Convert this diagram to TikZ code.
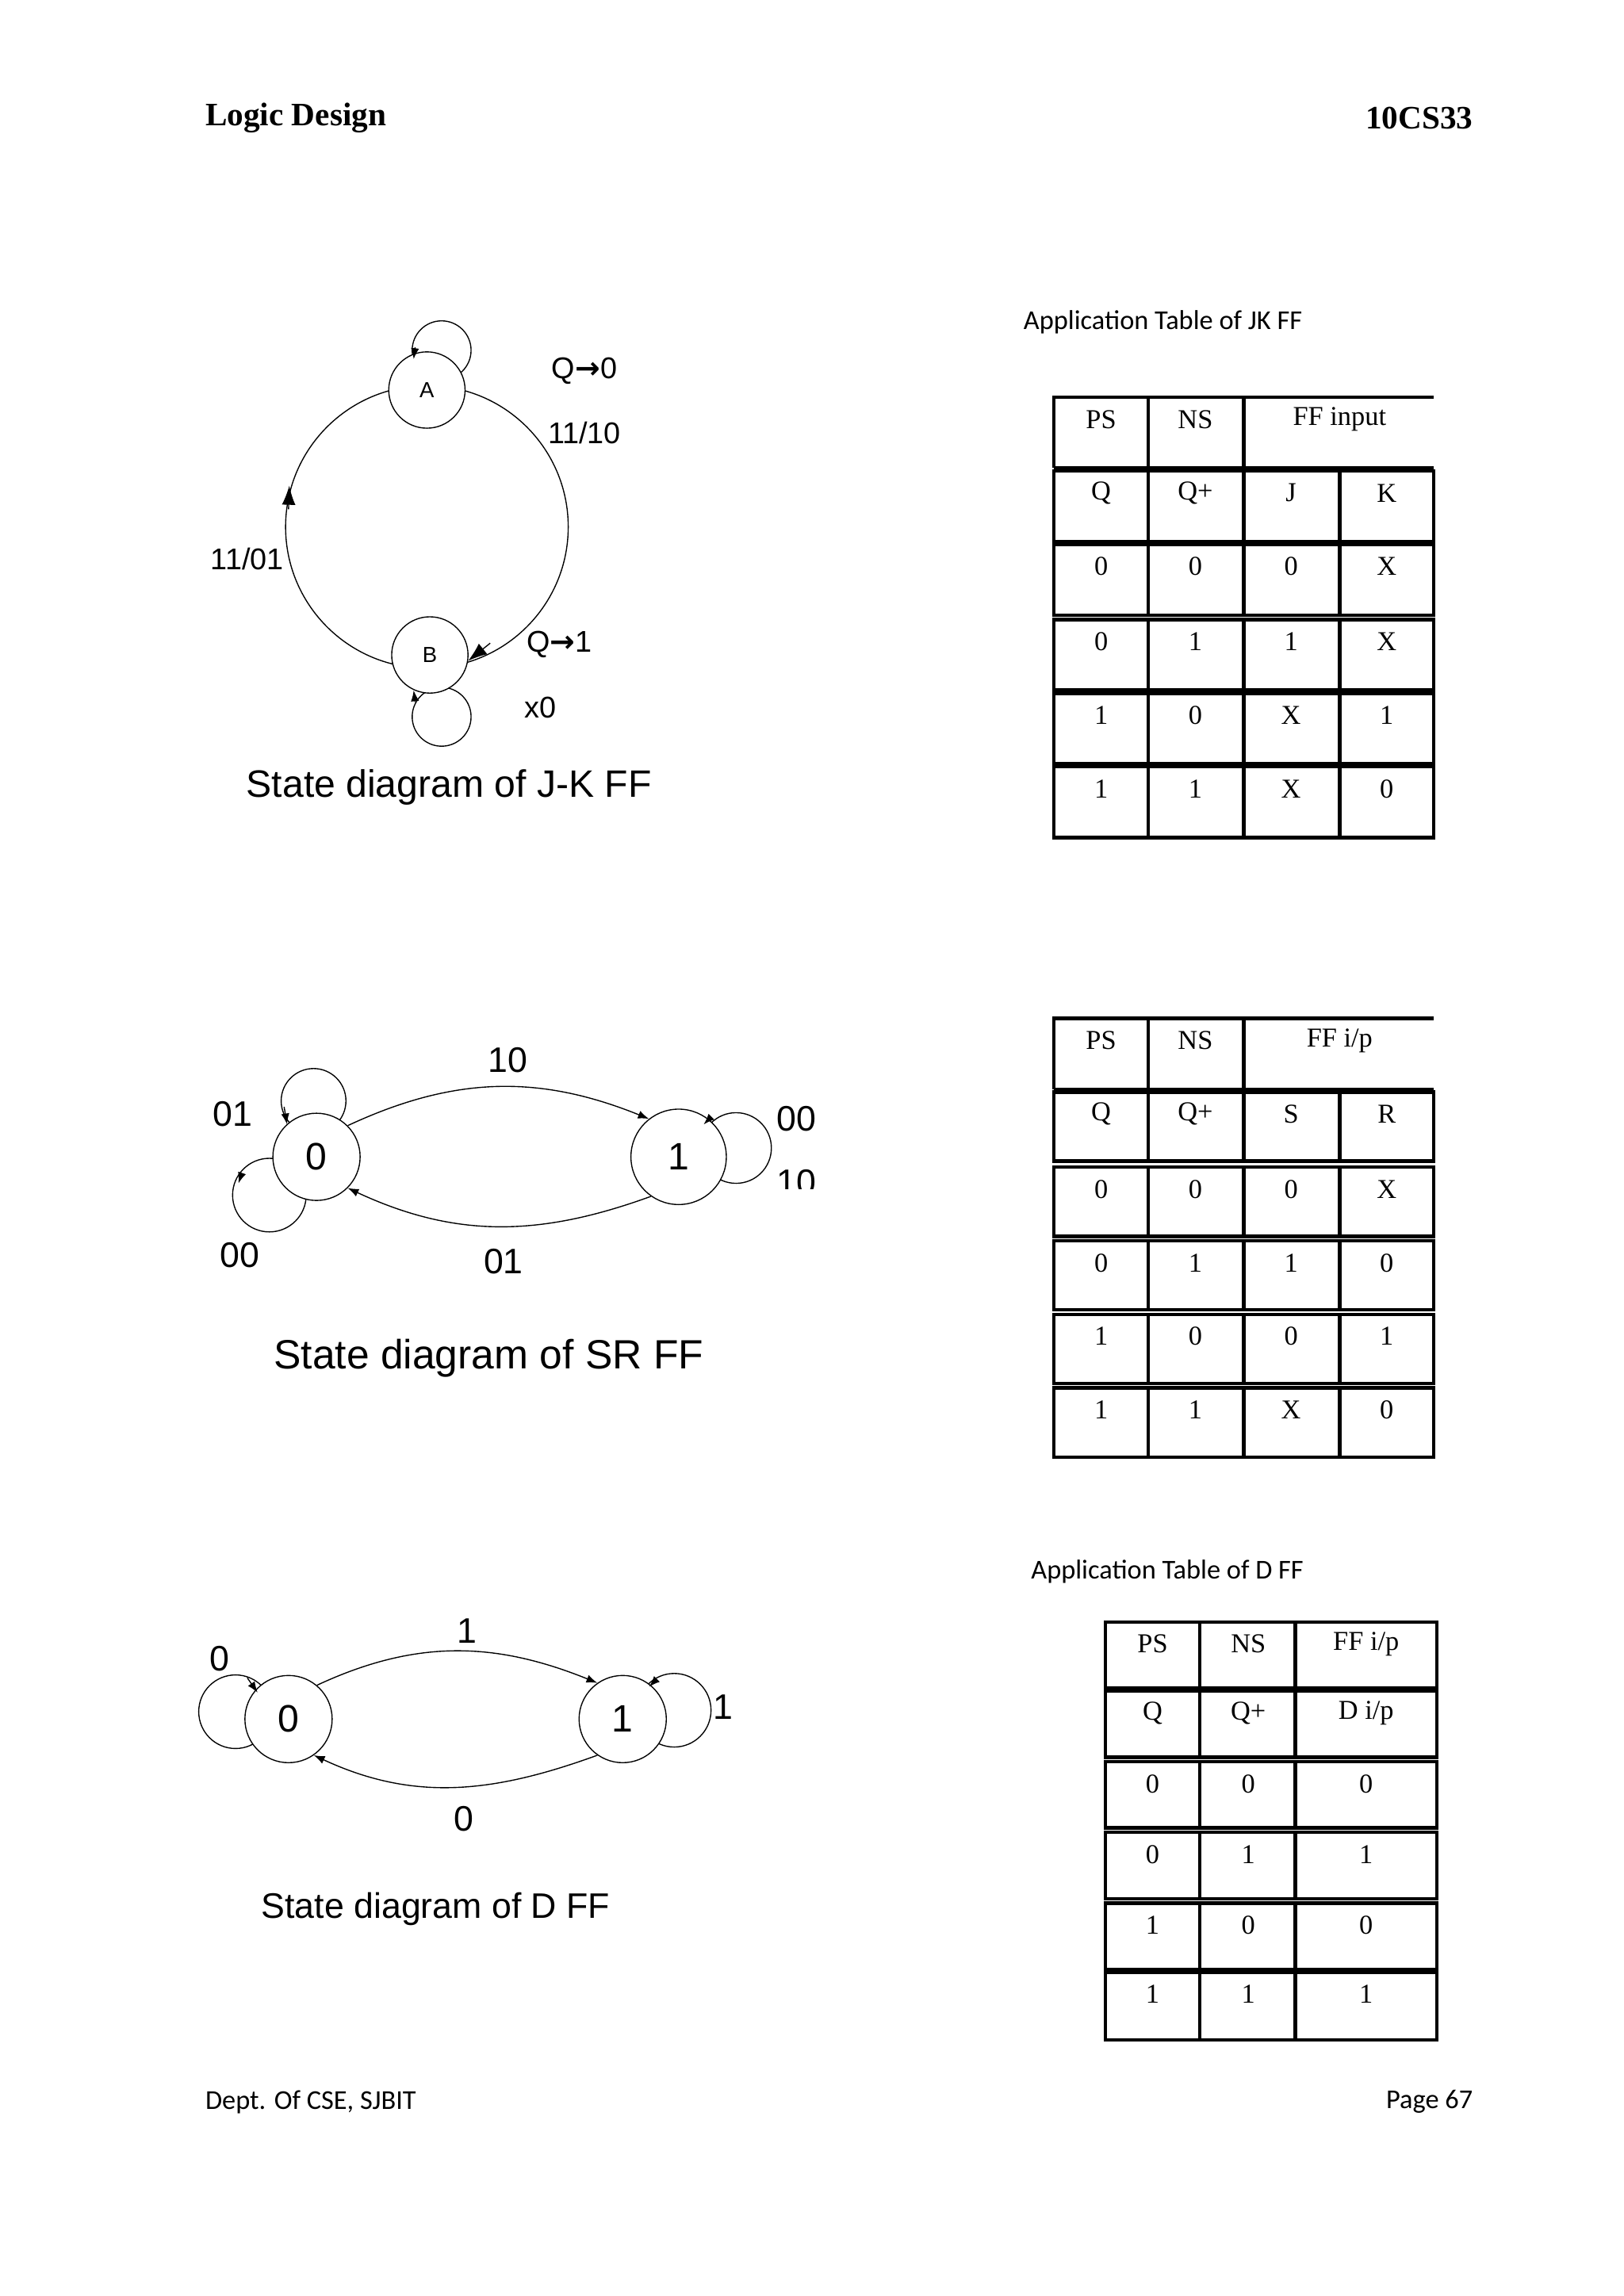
\documentclass[tikz,border=0pt]{standalone}
\usepackage{fontspec}
\setmainfont{Liberation Serif}
\newfontfamily\arf{Liberation Sans}
\newfontfamily\calf{Carlito}
\newfontfamily\djv{DejaVu Sans}
\usetikzlibrary{arrows.meta}
\begin{document}
\begin{tikzpicture}[x=0.54pt,y=-0.54pt,
  st/.style={circle,draw,fill=white,inner sep=0pt},
  tb/.style={draw,line width=1.3pt},
  tt/.style={font=\fontsize{10}{12}\selectfont},
  lab/.style={font=\arf\fontsize{13}{15}\selectfont},
  jl/.style={font=\arf\fontsize{11}{13}\selectfont},
  arr/.style={-{Latex[length=7pt,width=5pt]}},
  sarr/.style={-{Latex[length=4pt,width=3pt]}}]
\useasboundingbox (0,0) rectangle (1103,1560);
% header/footer
\node[anchor=west,font=\bfseries\fontsize{12}{14}\selectfont] (h1) at (133,80) {Logic Design};
\node[anchor=east,font=\bfseries\fontsize{12}{14}\selectfont] (h2) at (1007,80) {10CS33};
\node[anchor=west,font=\calf\fontsize{10}{12}\selectfont] (f1) at (133,1428) {Dept. Of CSE, SJBIT};
\node[anchor=east,font=\calf\fontsize{10}{12}\selectfont] (f2) at (1007,1428) {Page 67};
% ---------- JK diagram
\draw (300,238) circle (20);
\draw (300,487) circle (20);
\draw (290,358) circle (96);
\node[st,minimum size=28pt,font=\arf\fontsize{8}{9}\selectfont] (A) at (290,265) {A};
\node[st,minimum size=28pt,font=\arf\fontsize{8}{9}\selectfont] (B) at (292,445) {B};
\draw[arr] (196,346) -- (196.5,330);
\draw[arr] (333,437) -- (318,449);
\draw[sarr] (282,236) -- (281,244);
\draw[sarr] (282,477) -- (281,469);
\node[jl] at (397,252) {Q{\djv\bfseries→}0};
\node[jl] at (397,294) {11/10};
\node[jl] at (168,380) {11/01};
\node[jl] at (380,438) {Q{\djv\bfseries→}1};
\node[jl] at (367,481) {x0};
\node[lab,font=\arf\fontsize{14}{16}\selectfont] at (305,535) {State diagram of J-K FF};
% JK table
\node[font=\calf\fontsize{10}{12}\selectfont] at (790,219) {Application Table of JK FF};
\draw[tb] (716,318) -- (716,270) -- (974,270);
\draw[tb] (780,270) -- (780,318); \draw[tb] (845,270) -- (845,318);
\draw[tb] (716,318) -- (974,318);
\node[tt] at (748,285) {PS}; \node[tt] at (812,285) {NS}; \node[tt] at (910,285) {FF input};
\foreach \y/\a/\b/\c/\d in {320/Q/Q+/J/K,370/0/0/0/X,421/0/1/1/X,471/1/0/X/1,521/1/1/X/0}{
  \draw[tb] (716,\y) rectangle (974,\y+48);
  \draw[tb] (780,\y) -- (780,\y+48); \draw[tb] (845,\y) -- (845,\y+48); \draw[tb] (910,\y) -- (910,\y+48);
  \node[tt] at (748,\y+15) {\a}; \node[tt] at (812,\y+15) {\b};
  \node[tt] at (877,\y+15) {\c}; \node[tt] at (942,\y+15) {\d};}
% ---------- SR diagram
\draw (213,748) circle (22);
\draw (183,812) circle (25);
\draw (500,780) circle (24);
\node[st,minimum size=32pt,font=\arf\fontsize{14}{16}\selectfont] (S0) at (215,786) {0};
\node[st,minimum size=35pt,font=\arf\fontsize{14}{16}\selectfont] (S1) at (461,786) {1};
\draw[sarr] (S0.45) to[out=25,in=158] (S1.128);
\draw[sarr] (S1.235) to[out=200,in=-25] (S0.-45);
\draw[sarr] (193,752) -- (195,764);
\draw[sarr] (164,798) -- (162,804);
\draw[sarr] (482,760) -- (478,764);
\node[lab] at (345,720) {10};
\node[lab] at (342,857) {01};
\node[lab] at (158,757) {01};
\node[lab] at (163,853) {00};
\node[lab] at (541,760) {00};
\begin{scope}
\clip (520,790) rectangle (570,808);
\node[lab] at (541,803) {10};
\end{scope}
\node[lab,font=\arf\fontsize{15}{17}\selectfont] at (332,923) {State diagram of SR FF};
% SR table
\draw[tb] (716,740) -- (716,692) -- (974,692);
\draw[tb] (780,692) -- (780,740); \draw[tb] (845,692) -- (845,740);
\draw[tb] (716,740) -- (974,740);
\node[tt] at (748,707) {PS}; \node[tt] at (812,707) {NS}; \node[tt] at (910,707) {FF i/p};
\foreach \y/\a/\b/\c/\d in {742/Q/Q+/S/R,793/0/0/0/X,843/0/1/1/0,893/1/0/0/1,943/1/1/X/0}{
  \draw[tb] (716,\y) rectangle (974,\y+47);
  \draw[tb] (780,\y) -- (780,\y+47); \draw[tb] (845,\y) -- (845,\y+47); \draw[tb] (910,\y) -- (910,\y+47);
  \node[tt] at (748,\y+15) {\a}; \node[tt] at (812,\y+15) {\b};
  \node[tt] at (877,\y+15) {\c}; \node[tt] at (942,\y+15) {\d};}
% ---------- D diagram
\draw (160,1163) circle (25);
\draw (458,1162) circle (25);
\node[st,minimum size=32pt,font=\arf\fontsize{14}{16}\selectfont] (D0) at (196,1168) {0};
\node[st,minimum size=32pt,font=\arf\fontsize{14}{16}\selectfont] (D1) at (423,1168) {1};
\draw[sarr] (D0.50) to[out=25,in=158] (D1.125);
\draw[sarr] (D1.235) to[out=200,in=-25] (D0.-55);
\draw[sarr] (168,1140) -- (175,1150);
\draw[sarr] (446,1141) -- (441,1146);
\node[lab] at (317,1108) {1};
\node[lab] at (315,1236) {0};
\node[lab] at (149,1127) {0};
\node[lab] at (491,1160) {1};
\node[lab] at (296,1297) {State diagram of D FF};
% D table
\node[font=\calf\fontsize{10}{12}\selectfont] at (793,1068) {Application Table of D FF};
\foreach \y/\a/\b/\c/\h in {1102/PS/NS/FF i\slash p/45,1149/Q/Q+/D i\slash p/45,1197/0/0/0/45,1245/0/1/1/45,1293/1/0/0/45,1340/1/1/1/46}{
  \draw[tb] (751,\y) rectangle (976,\y+\h);
  \draw[tb] (815,\y) -- (815,\y+\h); \draw[tb] (880,\y) -- (880,\y+\h);
  \node[tt] at (783,\y+15) {\a}; \node[tt] at (848,\y+15) {\b};
  \node[tt] at (928,\y+15) {\c};}
\end{tikzpicture}
\end{document}
